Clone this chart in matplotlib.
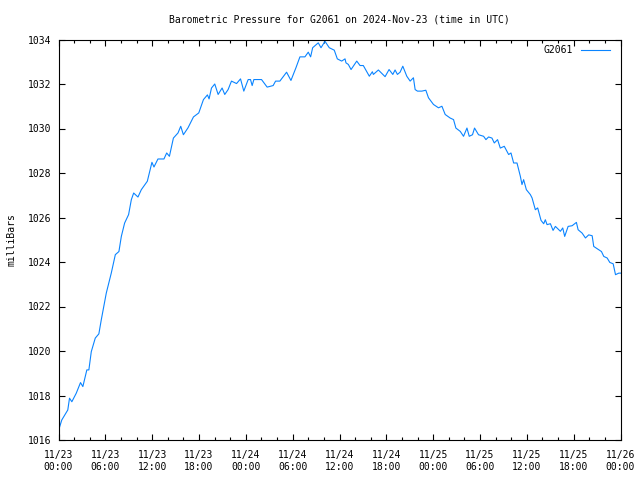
import matplotlib
matplotlib.use("Agg")
import matplotlib.pyplot as plt
from matplotlib.ticker import MultipleLocator, FixedLocator

# Hours since 2024-11-23 00:00 UTC
hours = [
    0.13, 0.42, 1.19, 1.41, 1.71, 2.27, 2.82, 3.12, 3.63, 3.89,
    4.20, 4.71, 5.17, 5.48, 6.12, 6.76, 7.28, 7.74, 8.05, 8.47,
    8.98, 9.33, 9.63, 10.18, 10.61, 11.38, 11.97, 12.23, 12.74, 13.51,
    13.86, 14.21, 14.72, 15.31, 15.66, 16.00, 16.59, 17.29, 17.97, 18.57,
    19.08, 19.29, 19.60, 20.02, 20.45, 20.96, 21.30, 21.73, 22.16, 22.81,
    23.32, 23.74, 24.30, 24.60, 24.81, 25.03, 26.01, 26.73, 27.50, 27.81,
    28.36, 29.22, 29.78, 30.42, 30.93, 31.57, 32.00, 32.30, 32.56, 33.28,
    33.63, 34.14, 34.69, 35.33, 35.72, 36.28, 36.71, 36.83, 37.13, 37.48,
    38.21, 38.63, 39.05, 39.82, 40.21, 40.34, 40.98, 41.84, 42.35, 42.83,
    43.12, 43.42, 43.76, 44.11, 44.62, 45.05, 45.47, 45.69, 45.99, 46.55,
    47.06, 47.40, 48.04, 48.68, 49.12, 49.54, 50.18, 50.61, 50.91, 51.47,
    51.89, 52.33, 52.62, 53.04, 53.30, 53.81, 54.46, 54.76, 55.10, 55.53,
    55.83, 56.25, 56.60, 57.11, 57.67, 57.97, 58.31, 58.74, 59.17, 59.38,
    59.59, 59.94, 60.45, 60.67, 61.09, 61.39, 61.82, 62.16, 62.37, 62.59,
    63.02, 63.36, 63.66, 64.30, 64.60, 64.85, 65.29, 65.80, 66.35, 66.57,
    67.08, 67.51, 67.93, 68.37, 68.57, 69.22, 69.56, 69.86, 70.29, 70.63,
    71.06, 71.36, 71.78, 72.00,
]
pressure = [
    1016.57, 1016.90, 1017.35, 1017.88, 1017.72, 1018.10, 1018.58, 1018.40, 1019.15, 1019.15,
    1019.97, 1020.58, 1020.77, 1021.40, 1022.60, 1023.50, 1024.33, 1024.47, 1025.15, 1025.75,
    1026.13, 1026.80, 1027.10, 1026.92, 1027.25, 1027.63, 1028.48, 1028.27, 1028.63, 1028.63,
    1028.90, 1028.75, 1029.57, 1029.80, 1030.10, 1029.72, 1030.03, 1030.52, 1030.70, 1031.30,
    1031.51, 1031.33, 1031.82, 1032.00, 1031.53, 1031.82, 1031.53, 1031.75, 1032.13, 1032.02,
    1032.23, 1031.68, 1032.20, 1032.20, 1031.93, 1032.20, 1032.20, 1031.86, 1031.93, 1032.13,
    1032.13, 1032.53, 1032.16, 1032.73, 1033.22, 1033.22, 1033.43, 1033.22, 1033.63, 1033.85,
    1033.63, 1033.92, 1033.63, 1033.52, 1033.13, 1033.03, 1033.13, 1032.95, 1032.88, 1032.65,
    1033.03, 1032.83, 1032.83, 1032.35, 1032.55, 1032.43, 1032.63, 1032.33, 1032.65, 1032.43,
    1032.63, 1032.43, 1032.53, 1032.80, 1032.35, 1032.13, 1032.28, 1031.75, 1031.68, 1031.68,
    1031.72, 1031.38, 1031.08, 1030.93, 1031.00, 1030.63, 1030.47, 1030.40, 1030.02, 1029.87,
    1029.65, 1030.02, 1029.65, 1029.72, 1030.02, 1029.72, 1029.65, 1029.50, 1029.62, 1029.57,
    1029.35, 1029.50, 1029.12, 1029.20, 1028.83, 1028.90, 1028.45, 1028.45, 1027.85, 1027.48,
    1027.70, 1027.25, 1027.03, 1026.88, 1026.35, 1026.43, 1025.87, 1025.72, 1025.90, 1025.68,
    1025.72, 1025.42, 1025.60, 1025.38, 1025.53, 1025.15, 1025.60, 1025.63, 1025.78, 1025.45,
    1025.30, 1025.08, 1025.22, 1025.18, 1024.70, 1024.55, 1024.47, 1024.25, 1024.18, 1023.98,
    1023.92, 1023.43, 1023.50, 1023.50,
]

tick_hours = [0, 6, 12, 18, 24, 30, 36, 42, 48, 54, 60, 66, 72]
tick_labels = ["11/23\n00:00", "11/23\n06:00", "11/23\n12:00", "11/23\n18:00",
               "11/24\n00:00", "11/24\n06:00", "11/24\n12:00", "11/24\n18:00",
               "11/25\n00:00", "11/25\n06:00", "11/25\n12:00", "11/25\n18:00",
               "11/26\n00:00"]
series_name = "G2061"
title = "Barometric Pressure for G2061 on 2024-Nov-23 (time in UTC)"

plt.rcParams['font.family'] = ['DejaVu Sans Mono']
plt.rcParams['font.size'] = 7.0

fig = plt.figure(figsize=(6.4, 4.8), dpi=100)
ax = fig.add_axes([58.5/640, 40/480, 562/640, 400.5/480])
ax.plot(hours, pressure, color='#0a84ff', lw=0.8, label=series_name)
ax.set_xlim(0, 72)
ax.set_ylim(1016, 1034)
ax.xaxis.set_major_locator(FixedLocator(tick_hours))
ax.set_xticklabels(tick_labels, linespacing=1.25)
ax.xaxis.set_minor_locator(MultipleLocator(2))
ax.yaxis.set_major_locator(MultipleLocator(2))
ax.tick_params(which='both', direction='in', top=True, right=True, width=0.8)
ax.tick_params(which='major', length=4)
ax.tick_params(which='minor', length=2)
ax.tick_params(axis='x', which='major', pad=7)
ax.tick_params(axis='y', which='major', pad=5.5)
for s in ax.spines.values():
    s.set_linewidth(0.8)
ax.set_ylabel("milliBars", labelpad=7.5)
ax.set_title(title, pad=12.5, fontsize=7.0)
leg = ax.legend(loc='upper right', bbox_to_anchor=(0.9885, 0.9953), frameon=False,
                handlelength=3.0, markerfirst=False, borderaxespad=0.0, handletextpad=0.8)
fig.savefig("out.png", dpi=100)
